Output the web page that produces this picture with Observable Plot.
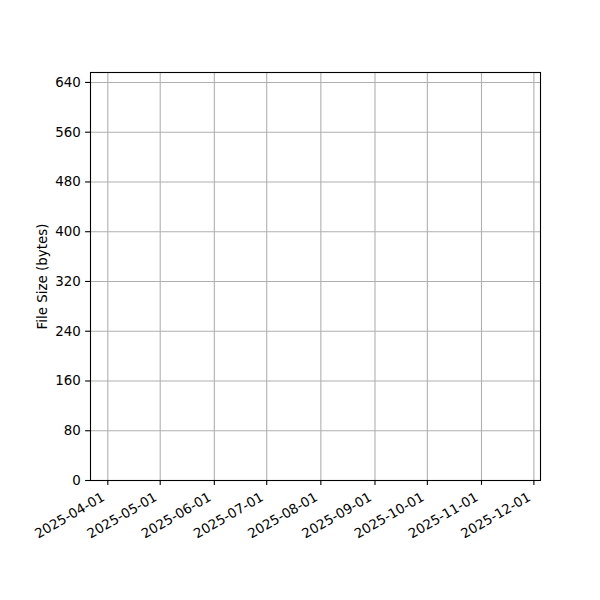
<!DOCTYPE html>
<html>
<head>
<meta charset="utf-8">
<script src="https://cdn.jsdelivr.net/npm/d3@7"></script>
<script src="https://cdn.jsdelivr.net/npm/@observablehq/plot@0.6"></script>
<style>
  html, body { margin: 0; padding: 0; background: #fff; }
  #chart { width: 600px; height: 600px; }
</style>
</head>
<body>
<div id="chart"></div>
<script>
// Series (the reference chart contains no data points)
const commitDates = [];
const fileSizes = [];

// Tick labels
const xTickLabels = ["2025-04-01","2025-05-01","2025-06-01","2025-07-01","2025-08-01","2025-09-01","2025-10-01","2025-11-01","2025-12-01"];
const yTickValues = [0, 80, 160, 240, 320, 400, 480, 560, 640];
const yLabel = "File Size (bytes)";

const xTicks = xTickLabels.map(s => new Date(s + "T00:00:00Z"));
const series = commitDates.map((d, i) => ({date: new Date(d), size: fileSizes[i]}));

const font = "DejaVu Sans, sans-serif";
const fs = 13.4;
const gridColor = "#b0b0b0";

const chart = Plot.plot({
  width: 600,
  height: 600,
  marginLeft: 90,
  marginRight: 60,
  marginTop: 72,
  marginBottom: 120,
  style: {fontFamily: font, fontSize: fs + "px", background: "#fff", color: "#000"},
  x: {type: "utc", domain: [new Date("2025-03-22T02:00:00Z"), new Date("2025-12-04T19:00:00Z")], axis: null, label: null},
  y: {domain: [0, 656], axis: null, label: null},
  marks: [
    Plot.ruleX(xTicks, {x: d => d, stroke: gridColor, strokeWidth: 1.1}),
    Plot.ruleY(yTickValues, {y: d => d, stroke: gridColor, strokeWidth: 1.1}),
    Plot.line(series, {x: "date", y: "size", stroke: "#1f77b4", strokeWidth: 2}),
    Plot.frame({stroke: "#000", strokeWidth: 1.1}),
    Plot.axisX({ticks: xTicks, tickSize: 4.9, tickFormat: () => "", label: null, stroke: "#000", strokeWidth: 1.1, strokeOpacity: 1}),
    Plot.axisY({ticks: yTickValues, tickSize: 4.9, tickFormat: () => "", label: null, stroke: "#000", strokeWidth: 1.1, strokeOpacity: 1}),
    Plot.text(xTicks, {x: d => d, text: (d, i) => xTickLabels[i], frameAnchor: "bottom", rotate: -30,
      textAnchor: "end", lineAnchor: "top", dx: -7, dy: 11, fill: "#000", fontSize: fs, fontFamily: font}),
    Plot.text(yTickValues, {y: d => d, text: d => String(d), frameAnchor: "left", textAnchor: "end",
      dx: -9.7, fill: "#000", fontSize: fs, fontFamily: font}),
    Plot.text([yLabel], {text: d => d, frameAnchor: "left", textAnchor: "middle", lineAnchor: "middle", rotate: -90, dx: -48, fill: "#000", fontSize: fs, fontFamily: font})
  ]
});
document.getElementById("chart").appendChild(chart);
</script>
</body>
</html>
